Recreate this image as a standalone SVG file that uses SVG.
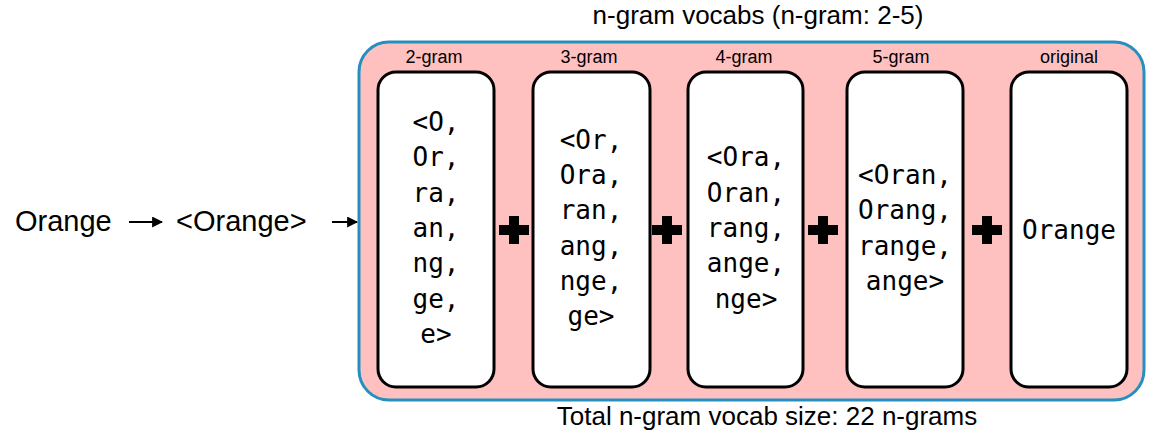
<svg xmlns="http://www.w3.org/2000/svg" width="1158" height="438" viewBox="0 0 1158 438">
<style>
.sans{font-family:"Liberation Sans",Arial,sans-serif;fill:#000}
.mono{font-family:"DejaVu Sans Mono","Liberation Mono",monospace;font-size:26px;fill:#000;text-anchor:middle}
.lbl{font-size:18px;text-anchor:middle}
.box{fill:#fff;stroke:#000;stroke-width:3}
.conn{stroke:#000;stroke-width:2;fill:none}
</style>
<defs>
<marker id="ah" viewBox="0 0 10 10" refX="9" refY="5" markerWidth="5.5" markerHeight="5.5" orient="auto" markerUnits="strokeWidth">
<path d="M0,0 L10,5 L0,10 z" fill="#000"/>
</marker>
<path id="plus" d="M-5,-14 h10 v9 h10 v10 h-10 v9 h-10 v-9 h-10 v-10 h10 z" fill="#000"/>
</defs>
<rect width="1158" height="438" fill="#fff"/>
<g id="word">
<text class="sans" x="15" y="231" font-size="29">Orange</text>
</g>
<g id="bounded">
<text class="sans" x="176" y="231" font-size="29">&lt;Orange&gt;</text>
</g>
<g id="vocabs">
<rect x="359" y="42" width="785" height="358" rx="30" fill="#ffc0c0" stroke="#2590c0" stroke-width="3"/>
<text class="sans" x="758" y="24" font-size="26" text-anchor="middle">n-gram vocabs (n-gram: 2-5)</text>
<text class="sans" x="767" y="425" font-size="26" text-anchor="middle">Total n-gram vocab size: 22 n-grams</text>
</g>
<g id="g2">
<text class="sans lbl" x="434" y="63">2-gram</text>
<rect class="box" x="378" y="72" width="116" height="315" rx="18"/>
<text class="mono"><tspan x="436" y="131">&lt;O,</tspan><tspan x="436" y="166">Or,</tspan><tspan x="436" y="202">ra,</tspan><tspan x="436" y="237">an,</tspan><tspan x="436" y="272">ng,</tspan><tspan x="436" y="308">ge,</tspan><tspan x="436" y="343">e&gt;</tspan></text>
</g>
<g id="g3">
<text class="sans lbl" x="589" y="63">3-gram</text>
<rect class="box" x="533" y="72" width="117" height="315" rx="18"/>
<text class="mono"><tspan x="591" y="149">&lt;Or,</tspan><tspan x="591" y="184">Ora,</tspan><tspan x="591" y="219">ran,</tspan><tspan x="591" y="255">ang,</tspan><tspan x="591" y="290">nge,</tspan><tspan x="591" y="325">ge&gt;</tspan></text>
</g>
<g id="g4">
<text class="sans lbl" x="744" y="63">4-gram</text>
<rect class="box" x="688" y="72" width="115" height="315" rx="18"/>
<text class="mono"><tspan x="746" y="166">&lt;Ora,</tspan><tspan x="746" y="202">Oran,</tspan><tspan x="746" y="237">rang,</tspan><tspan x="746" y="272">ange,</tspan><tspan x="746" y="308">nge&gt;</tspan></text>
</g>
<g id="g5">
<text class="sans lbl" x="901" y="63">5-gram</text>
<rect class="box" x="847" y="72" width="116" height="315" rx="18"/>
<text class="mono"><tspan x="905" y="184">&lt;Oran,</tspan><tspan x="905" y="219">Orang,</tspan><tspan x="905" y="255">range,</tspan><tspan x="905" y="290">ange&gt;</tspan></text>
</g>
<g id="orig">
<text class="sans lbl" x="1069" y="63">original</text>
<rect class="box" x="1011" y="72" width="116" height="315" rx="18"/>
<text class="mono" x="1069" y="239">Orange</text>
</g>
<g id="pluses">
<use href="#plus" x="514" y="230"/>
<use href="#plus" x="667" y="230"/>
<use href="#plus" x="823" y="230"/>
<use href="#plus" x="987" y="230"/>
</g>
<g id="connectors">
<line class="conn" x1="129" y1="222" x2="162" y2="222" marker-end="url(#ah)"/>
<line class="conn" x1="332" y1="222" x2="357" y2="222" marker-end="url(#ah)"/>
</g>
</svg>
